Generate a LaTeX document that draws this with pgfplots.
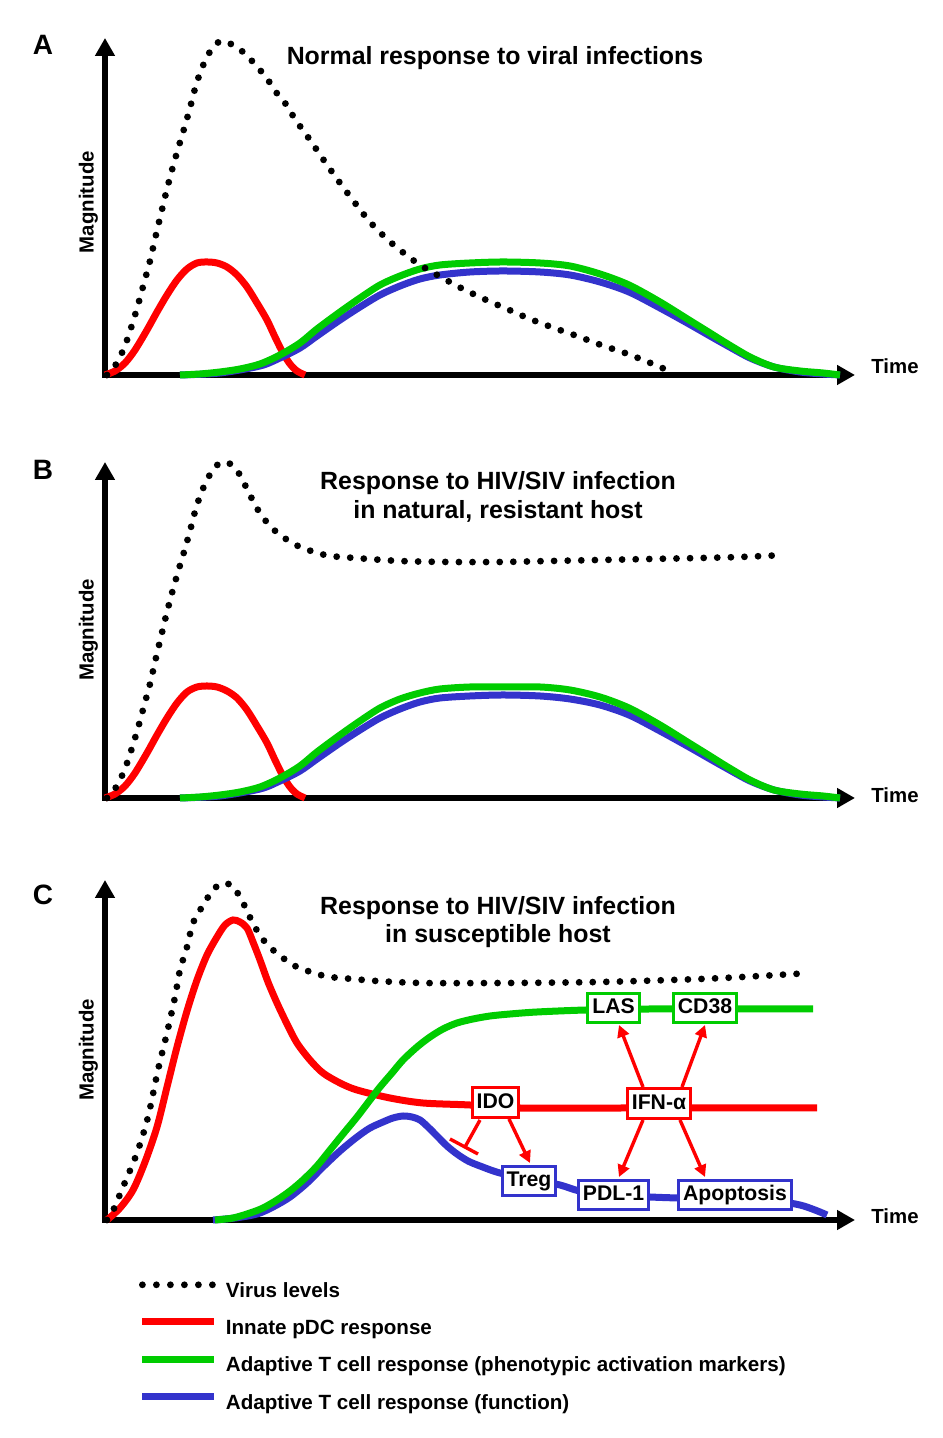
\documentclass[border=0pt]{standalone}
\usepackage{fontspec}
\setmainfont{Liberation Sans}
\usepackage{pgfplots}
\pgfplotsset{compat=1.18}
\usetikzlibrary{arrows.meta}
\definecolor{cred}{RGB}{255,0,0}
\definecolor{cgreen}{RGB}{0,204,0}
\definecolor{cblue}{RGB}{51,51,204}

\pgfplotsset{
  panel/.style={
    scale only axis, width=375pt, xmin=105, xmax=855, ymin=0,
    axis lines=left, xtick=\empty, ytick=\empty,
    axis line style={line width=3.4pt, line cap=rect, -{Triangle[length=9pt,width=9.5pt]}},
    clip=false, anchor=south west,
    label style={font=\bfseries\fontsize{10.2}{12}\selectfont, inner sep=0pt},
    ylabel={Magnitude}, xlabel={Time},
  },
  virusline/.style={black, line width=3.4pt, line cap=round, dash pattern=on 0pt off 6.8pt},
  pdcline/.style={cred, line width=3.5pt},
  actline/.style={cgreen, line width=3.5pt},
  funline/.style={cblue, line width=3.5pt},
}
\tikzset{
  box/.style={draw=#1, fill=white, line width=1.5pt, font=\bfseries\fontsize{10.6}{12}\selectfont,
    inner xsep=2.3pt, inner ysep=2.2pt, text height=8pt, text depth=2.2pt},
  rarr/.style={cred, line width=1.7pt, -{Triangle[length=6pt,width=6pt]}},
  ttl/.style={font=\bfseries\fontsize{12.45}{14}\selectfont, anchor=base},
  letter/.style={font=\bfseries\fontsize{14}{16}\selectfont, anchor=center},
}

\begin{document}
\begin{tikzpicture}
\path[use as bounding box] (0pt,0pt) rectangle (471pt,719pt);

% ---------------- Panel A ----------------
\begin{axis}[panel, at={(52.5pt,531.5pt)}, height=168.5pt, ymax=337,
  xlabel style={at={(axis description cs:1.0213,0.003)}, anchor=base west},
  ylabel style={at={(axis description cs:-0.022,0.513)}, anchor=center}]
\addplot[pdcline, smooth] coordinates {(105,0)(115,4)(125,12)(135,25)(147,45)(157,63)(167,80)(177,95)(187,106)(197,112)(207,113)(217,112)(227,108)(237,100)(247,88)(257,72)(267,55)(275,38)(283,22)(290,11)(297,4)(305,0)};
\addplot[funline, smooth] coordinates {(180,0)(220,2)(260,9)(280,17)(300,27)(317,39)(340,55)(360,68)(380,80)(400,89)(420,96)(440,100)(470,103)(503,104)(540,103)(570,100)(600,93)(629,83)(660,67)(689,51)(710,39)(726,30)(750,17)(774,8)(800,3)(823,1)(840,0)};
\addplot[actline, smooth] coordinates {(180,0)(200,1)(220,3)(240,6)(260,11)(280,20)(300,32)(317,46)(340,63)(360,77)(380,90)(400,99)(420,106)(440,110)(470,112)(503,113)(540,112)(570,109)(600,101)(629,90)(660,73)(689,55)(710,42)(726,32)(750,18)(774,8)(800,4)(823,2)(840,0)};
\addplot[virusline, smooth] coordinates {(107,0)(113,6)(120,18)(126,32)(132,50)(138,70)(144,92)(150,114)(155,136)(160,157)(166,182)(172,205)(178,226)(184,246)(190,267)(196,290)(202,307)(208,320)(215,330)(222,334)(233,330)(243,323)(252,314)(260,305)(268,295)(275,284)(283,275)(290,264)(297,253)(310,235)(325,213)(340,192)(355,172)(370,153)(388,135)(405,121)(420,110)(439,99)(461,87)(484,76)(507,66)(530,56)(554,47)(577,39)(601,30)(625,22)(648,13)(674,2)};
\node[letter] at (axis cs:43,330) {A};
\node[ttl] at (axis cs:495,310) {Normal response to viral infections};
\end{axis}

% ---------------- Panel B ----------------
\begin{axis}[panel, at={(52.5pt,320pt)}, height=168pt, ymax=336,
  xlabel style={at={(axis description cs:1.0213,-0.012)}, anchor=base west},
  ylabel style={at={(axis description cs:-0.022,0.5)}, anchor=center}]
\addplot[pdcline, smooth] coordinates {(105,0)(115,4)(125,12)(135,25)(147,45)(157,63)(167,80)(177,95)(187,106)(197,111)(207,112)(217,111)(227,107)(237,100)(247,88)(257,72)(267,55)(275,38)(283,22)(290,11)(297,4)(305,0)};
\addplot[funline, smooth] coordinates {(180,0)(220,2)(260,9)(280,17)(300,27)(317,39)(340,55)(360,68)(380,80)(400,89)(420,96)(440,100)(470,102)(503,103)(540,102)(570,99)(600,93)(629,83)(660,67)(689,51)(710,39)(726,30)(750,17)(774,8)(800,3)(823,1)(840,0)};
\addplot[actline, smooth] coordinates {(180,0)(200,1)(220,3)(240,6)(260,11)(280,20)(300,32)(317,46)(340,63)(360,77)(380,90)(400,99)(420,105)(440,109)(470,111)(503,111)(540,111)(570,108)(600,101)(629,90)(660,73)(689,55)(710,42)(726,32)(750,18)(774,8)(800,4)(823,2)(840,0)};
\addplot[virusline, smooth] coordinates {(107,0)(113,6)(120,18)(126,32)(132,50)(138,70)(144,92)(150,114)(155,136)(160,157)(166,182)(172,205)(178,226)(184,246)(190,267)(196,290)(202,307)(208,320)(215,331)(223,336)(232,333)(240,323)(246,311)(252,299)(258,288)(265,278)(273,269)(283,261)(294,254)(305,249)(318,245)(330,242)(355,240)(400,237)(450,236)(500,236)(550,237)(600,238)(650,239)(700,240)(740,241)(785,243)};
\node[letter] at (axis cs:43,328) {B};
\node[ttl] at (axis cs:498,308) {Response to HIV/SIV infection};
\node[ttl] at (axis cs:498,279) {in natural, resistant host};
\end{axis}

% ---------------- Panel C ----------------
\begin{axis}[panel, at={(52.5pt,109pt)}, height=170pt, ymax=340,
  xlabel style={at={(axis description cs:1.0213,-0.009)}, anchor=base west},
  ylabel style={at={(axis description cs:-0.022,0.5)}, anchor=center},
  legend style={at={(axis description cs:0.0447,-0.1794)}, anchor=north west,
    draw=none, fill=none, inner sep=0pt, row sep=8pt, column sep=4pt,
    font=\bfseries\fontsize{10.3}{12}\selectfont,
    nodes={inner sep=0pt, text height=8pt, text depth=2.5pt}},
  legend cell align=left,
  legend image code/.code={\draw[#1] (0pt,3.6pt) -- (36pt,3.6pt);}]
\addlegendimage{virusline, dash pattern=on 0pt off 7pt}\addlegendentry{Virus levels}
\addlegendimage{pdcline}\addlegendentry{Innate pDC response}
\addlegendimage{actline}\addlegendentry{Adaptive T cell response (phenotypic activation markers)}
\addlegendimage{funline}\addlegendentry{Adaptive T cell response (function)}
\addplot[pdcline, smooth, forget plot] coordinates {(107,0)(120,12)(133,30)(145,58)(157,93)(167,133)(177,173)(187,209)(197,240)(207,265)(217,283)(225,295)(233,300)(240,298)(247,292)(253,278)(260,260)(268,238)(277,217)(287,196)(297,177)(310,160)(323,147)(340,137)(357,130)(390,122)(423,117)(470,115)(520,112)(625,112)(700,112)(817,112)};
\addplot[funline, smooth, forget plot] coordinates {(213,0)(235,2)(257,6)(273,13)(290,23)(307,37)(323,53)(340,69)(357,83)(370,92)(383,98)(393,102)(403,104)(412,103)(420,100)(428,93)(437,84)(447,74)(457,66)(468,59)(480,54)(500,47)(530,41)(560,35)(580,29)(615,25)(650,23)(677,22)(735,20)(780,18)(800,15)(815,10)(827,5)};
\addplot[actline, smooth, forget plot] coordinates {(215,0)(233,2)(250,7)(263,12)(277,20)(290,29)(303,40)(317,54)(330,70)(343,86)(357,103)(370,120)(380,133)(392,147)(403,160)(417,173)(430,183)(443,191)(457,197)(473,201)(490,204)(510,206)(537,208)(586,210)(650,211)(813,211)};
\addplot[virusline, smooth, forget plot] coordinates {(107,0)(112,7)(123,33)(137,67)(148,103)(158,150)(167,187)(175,223)(180,250)(187,273)(193,297)(202,313)(213,330)(223,337)(234,333)(240,322)(247,310)(252,298)(258,288)(265,278)(273,270)(283,262)(293,255)(305,250)(317,246)(330,243)(353,241)(377,239)(423,237)(503,237)(600,238)(700,241)(760,244)(810,247)};
% regulation arrows
\draw[rarr] (axis cs:643,133) -- (axis cs:619,195);
\draw[rarr] (axis cs:682,133) -- (axis cs:705,195);
\draw[rarr] (axis cs:643,100) -- (axis cs:619,43);
\draw[rarr] (axis cs:680,100) -- (axis cs:705,43);
\draw[rarr] (axis cs:509,101) -- (axis cs:530,57);
\draw[cred, line width=1.7pt] (axis cs:480,100) -- (axis cs:465,73);
\draw[cred, line width=1.7pt] (axis cs:450,81) -- (axis cs:478,66);
\node[box=cgreen] at (axis cs:613.5,212) {LAS};
\node[box=cgreen] at (axis cs:705,212) {CD38};
\node[box=cred] at (axis cs:495.5,117.5) {IDO};
\node[box=cred] at (axis cs:659,116.5) {IFN-α};
\node[box=cblue] at (axis cs:529,39) {Treg};
\node[box=cblue] at (axis cs:613.5,25) {PDL-1};
\node[box=cblue] at (axis cs:735,25) {Apoptosis};
\node[letter] at (axis cs:43,325) {C};
\node[ttl] at (axis cs:498,305) {Response to HIV/SIV infection};
\node[ttl] at (axis cs:498,277) {in susceptible host};
\end{axis}
\end{tikzpicture}
\end{document}
